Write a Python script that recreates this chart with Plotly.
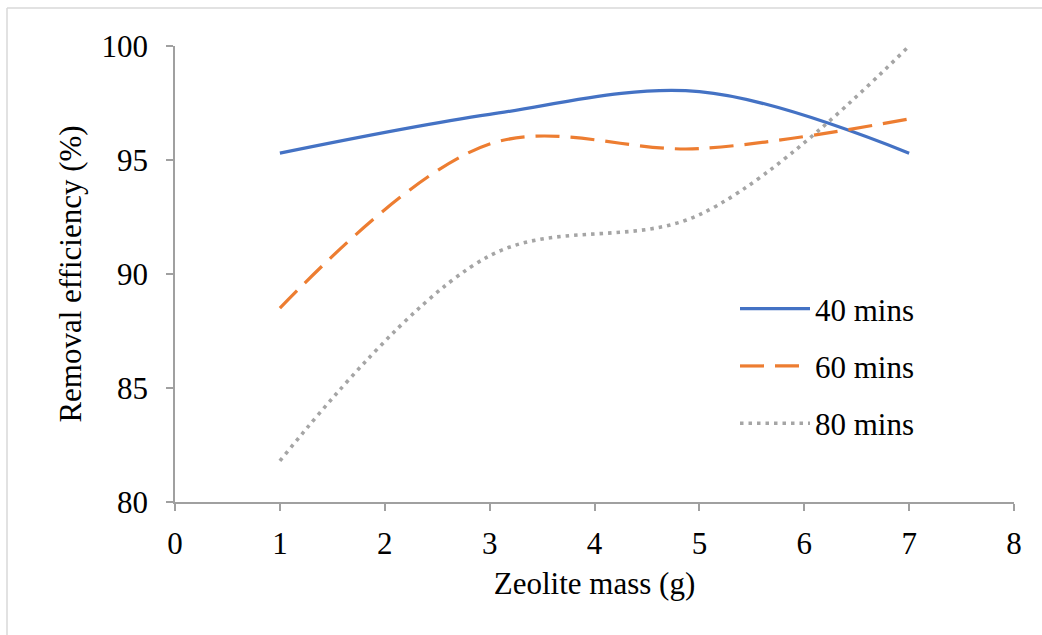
import plotly.graph_objects as go

# Data
zeolite_mass = [1, 3, 5, 7]
eff_40 = [95.3, 97.0, 98.0, 95.3]
eff_60 = [88.5, 95.7, 95.5, 96.8]
eff_80 = [81.8, 90.8, 92.6, 100.0]
series_names = ["40 mins", "60 mins", "80 mins"]

W, H = 1042, 635
L, R, T, B = 175, 28, 46, 133
pw, ph = W - L - R, H - T - B

FONT = "Liberation Serif, Times New Roman, serif"
AX = "#a0a0a0"

fig = go.Figure()
styles = [
    dict(color="#4472C4", width=3.2, dash="solid"),
    dict(color="#ED7D31", width=3.2, dash="24px,11px"),
    dict(color="#A5A5A5", width=3.6, dash="3.5px,5px"),
]
for name, ys, st, g in zip(series_names, [eff_40, eff_60, eff_80], styles, ["a", "b", "c"]):
    fig.add_trace(go.Scatter(
        x=zeolite_mass, y=ys, mode="lines", name=name, legendgroup=g,
        line=dict(shape="spline", smoothing=1.0, **st),
    ))

fig.update_layout(
    width=W, height=H,
    margin=dict(l=L, r=R, t=T, b=B, pad=0),
    paper_bgcolor="white", plot_bgcolor="white",
    font=dict(family=FONT, size=31, color="black"),
    showlegend=True,
    legend=dict(
        x=(735 - L) / pw, y=(502 - 282) / ph, xanchor="left", yanchor="top",
        bgcolor="rgba(0,0,0,0)", tracegroupgap=14, itemwidth=70,
        font=dict(family=FONT, size=31, color="black"),
    ),
    xaxis=dict(
        range=[0, 8], dtick=1, tick0=0, showgrid=False, zeroline=False,
        showline=True, linecolor=AX, linewidth=1.6,
        ticks="outside", ticklen=7, tickcolor=AX, tickwidth=1.6,
        ticklabelstandoff=6,
        title=dict(text="Zeolite mass (g)", standoff=12, font=dict(family=FONT, size=31)),
        tickfont=dict(family=FONT, size=31),
    ),
    yaxis=dict(
        range=[80, 100], dtick=5, tick0=80, showgrid=False, zeroline=False,
        showline=True, linecolor=AX, linewidth=1.6,
        ticks="outside", ticklen=7, tickcolor=AX, tickwidth=1.6,
        ticklabelstandoff=12,
        title=dict(text="Removal efficiency (%)", standoff=11, font=dict(family=FONT, size=31)),
        tickfont=dict(family=FONT, size=31),
    ),
    shapes=[
        dict(type="line", xref="paper", yref="paper",
             x0=(7 - L) / pw, x1=(W + 5 - L) / pw, y0=(502 - 8) / ph, y1=(502 - 8) / ph,
             line=dict(color="#d9d9d9", width=1.5)),
        dict(type="line", xref="paper", yref="paper",
             x0=(7 - L) / pw, x1=(7 - L) / pw, y0=(502 - 8) / ph, y1=(502 - H - 5) / ph,
             line=dict(color="#d9d9d9", width=1.5)),
    ],
)

fig.write_html("out.html")
